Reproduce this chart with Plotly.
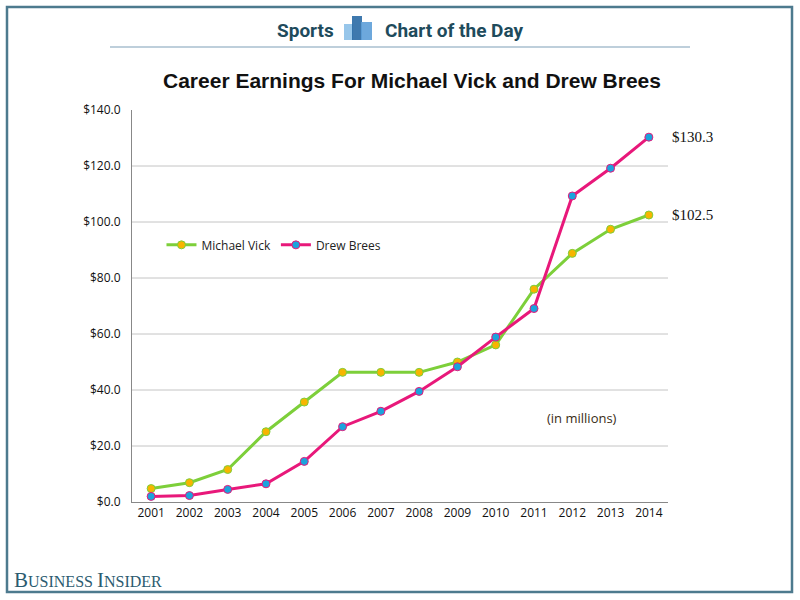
import plotly.graph_objects as go

years = list(range(2001, 2015))
vick = [4.8, 6.9, 11.6, 25.1, 35.7, 46.3, 46.3, 46.3, 50.0, 56.1, 76.0, 88.8, 97.4, 102.5]
brees = [2.0, 2.3, 4.5, 6.5, 14.5, 26.9, 32.4, 39.5, 48.3, 58.9, 69.1, 109.3, 119.2, 130.3]
y_ticks = [0, 20, 40, 60, 80, 100, 120, 140]
grid_vals = [20, 40, 60, 80, 100, 120]

GREEN = "#7dcf3a"
YELLOW = "#f7b500"
PINK = "#e8187a"
CYAN = "#1ba3dc"

fig = go.Figure()
fig.add_trace(go.Scatter(
    x=years, y=vick, name="Michael Vick", mode="lines+markers",
    line=dict(color=GREEN, width=3),
    marker=dict(color=YELLOW, size=8, line=dict(color=GREEN, width=1)),
))
fig.add_trace(go.Scatter(
    x=years, y=brees, name="Drew Brees", mode="lines+markers",
    line=dict(color=PINK, width=3),
    marker=dict(color=CYAN, size=8, line=dict(color=PINK, width=1)),
))

shapes = []
for g in grid_vals:
    shapes.append(dict(type="line", xref="paper", yref="y", x0=0, x1=1, y0=g, y1=g,
                       line=dict(color="#c4c4c4", width=1), layer="below"))

def px2paper(px, py):
    return (px - 132) / 536.0, (502 - py) / 392.0

# frame
fx0, fy0 = px2paper(7, 7)
fx1, fy1 = px2paper(792, 592)
shapes.append(dict(type="rect", xref="paper", yref="paper", x0=fx0, y0=fy1, x1=fx1, y1=fy0,
                   line=dict(color="#4d7a8e", width=2.5)))
# header underline
hx0, hy = px2paper(110, 47)
hx1, _ = px2paper(690, 47)
shapes.append(dict(type="line", xref="paper", yref="paper", x0=hx0, x1=hx1, y0=hy, y1=hy,
                   line=dict(color="#a9bfcf", width=1.5)))
# header icon bars
for (l, r, t, col) in [(344, 353, 24, "#8cc0e8"), (352, 362, 16, "#2a6aa5"), (361, 372, 22, "#5d9fd8")]:
    x0, y0 = px2paper(l, 40)
    x1, y1 = px2paper(r, t)
    shapes.append(dict(type="rect", xref="paper", yref="paper", x0=x0, x1=x1, y0=y0, y1=y1,
                       line=dict(width=0), fillcolor=col, opacity=0.9))

annotations = [
    dict(x=years[-1], y=brees[-1], text="$%.1f" % brees[-1], xanchor="left", yanchor="middle",
         xshift=21, showarrow=False, font=dict(family="Liberation Serif", size=15, color="#111")),
    dict(x=years[-1], y=vick[-1], text="$%.1f" % vick[-1], xanchor="left", yanchor="middle",
         xshift=21, showarrow=False, font=dict(family="Liberation Serif", size=15, color="#111")),
    dict(x=2012.25, y=30, text="(in millions)", showarrow=False, xanchor="center", yanchor="middle",
         font=dict(family="Open Sans", size=13, color="#3a2c14")),
]
ax, ay = px2paper(305, 30)
annotations.append(dict(xref="paper", yref="paper", x=ax, y=ay, text="<b>Sports</b>", showarrow=False,
                        xanchor="center", yanchor="middle",
                        font=dict(family="Roboto", size=19, color="#1e4b5c")))
ax, ay = px2paper(454, 30)
annotations.append(dict(xref="paper", yref="paper", x=ax, y=ay, text="<b>Chart of the Day</b>", showarrow=False,
                        xanchor="center", yanchor="middle",
                        font=dict(family="Roboto", size=19, color="#1e4b5c")))
ax, ay = px2paper(412, 80)
annotations.append(dict(xref="paper", yref="paper", x=ax, y=ay,
                        text="<b>Career Earnings For Michael Vick and Drew Brees</b>", showarrow=False,
                        xanchor="center", yanchor="middle",
                        font=dict(family="Liberation Sans", size=21, color="#111")))
ax, ay = px2paper(12, 580)
annotations.append(dict(xref="paper", yref="paper", x=ax, y=ay,
                        text="<span style='font-size:21px'>B</span>USINESS <span style='font-size:21px'>I</span>NSIDER",
                        showarrow=False, xanchor="left", yanchor="middle",
                        font=dict(family="Liberation Serif", size=16, color="#2b5b70")))

fig.update_layout(
    width=800, height=600,
    margin=dict(l=132, r=132, t=110, b=98),
    paper_bgcolor="white", plot_bgcolor="white",
    showlegend=True,
    legend=dict(orientation="h", x=0.055, y=0.656, xanchor="left", yanchor="middle",
                font=dict(family="Open Sans", size=12, color="#222"), bgcolor="rgba(0,0,0,0)",
                itemwidth=30),
    xaxis=dict(range=[2000.5, 2014.5], tickvals=years, ticktext=[str(y) for y in years],
               showgrid=False, zeroline=False, showline=True, linecolor="#888", linewidth=1,
               ticks="", tickfont=dict(family="Open Sans", size=12, color="#111"), fixedrange=True),
    yaxis=dict(range=[0, 140], tickvals=y_ticks, ticktext=["$%.1f" % v for v in y_ticks],
               showgrid=False, zeroline=False, showline=True, linecolor="#888", linewidth=1,
               ticks="", ticklabelstandoff=8, tickfont=dict(family="Open Sans", size=12, color="#111")),
    shapes=shapes,
    annotations=annotations,
)

fig.write_html("out.html", config={"displayModeBar": False},
               post_script="document.body.style.margin='0';document.body.style.padding='0';")
